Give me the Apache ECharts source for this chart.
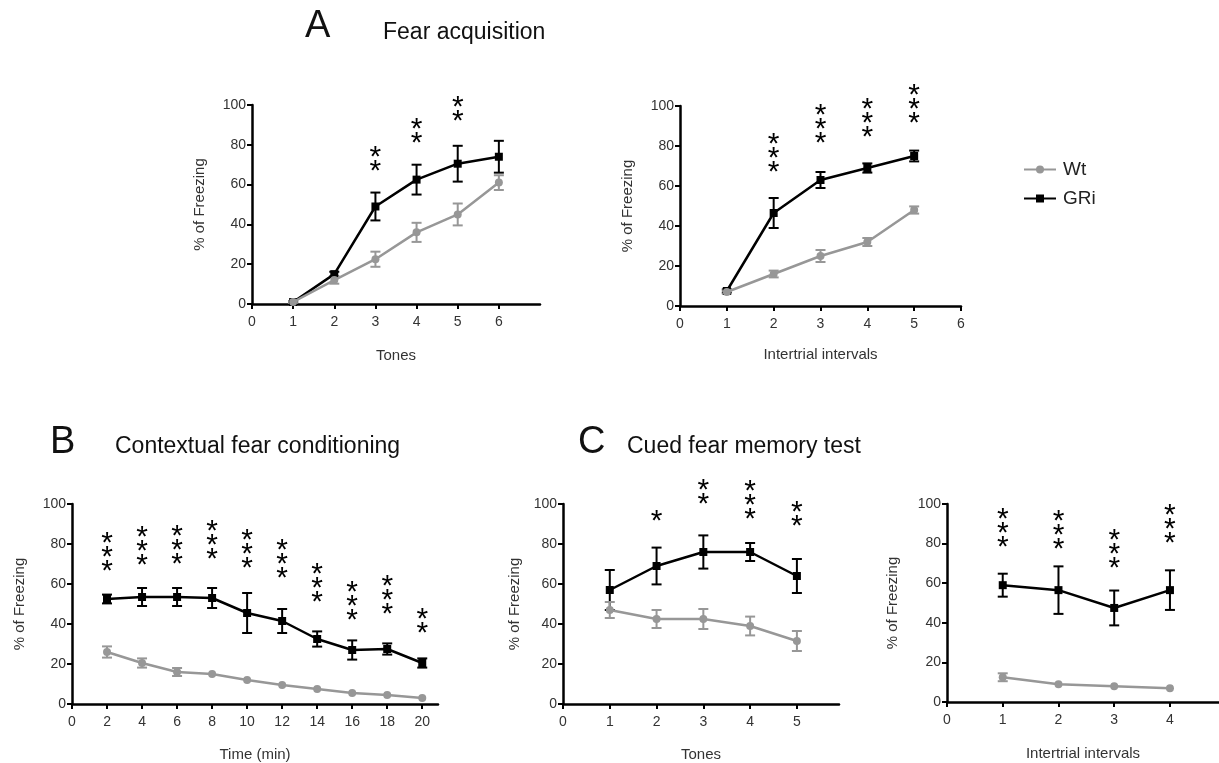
<!DOCTYPE html>
<html><head><meta charset="utf-8">
<script src="https://cdn.jsdelivr.net/npm/echarts@6/dist/echarts.min.js"></script>
<style>html,body{margin:0;padding:0;background:#fff}#c{width:1219px;height:763px}</style>
</head><body><div id="c"></div>
<script>
// ---------- DATA ----------
// Panel A1: Fear acquisition – Tones
const a1X = [1, 2, 3, 4, 5, 6];
const a1Wt = [1, 12, 22.5, 36, 45, 61];
const a1WtErr = [0.5, 1.8, 3.8, 4.8, 5.5, 3.7];
const a1GRi = [1, 15, 49, 62.5, 70.5, 74];
const a1GRiErr = [0.5, 1.2, 7, 7.5, 9, 8];
const a1Stars = [0, 0, 2, 2, 2, 0];
const a1StarBase = [null, null, 70, 84, 95, null];

// Panel A2: Fear acquisition – Intertrial intervals
const a2X = [1, 2, 3, 4, 5];
const a2Wt = [7, 16, 25, 32, 48];
const a2WtErr = [0.8, 1.7, 3, 2, 1.8];
const a2GRi = [7.5, 46.5, 63, 69, 75];
const a2GRiErr = [0.8, 7.5, 4, 2.3, 2.7];
const a2Stars = [0, 3, 3, 3, 3];
const a2StarBase = [null, 70, 84.5, 87.5, 94.5];

// Panel B: Contextual fear conditioning – Time (min)
const bX = [2, 4, 6, 8, 10, 12, 14, 16, 18, 20];
const bWt = [26, 20.5, 16, 15, 12, 9.5, 7.5, 5.5, 4.5, 3];
const bWtErr = [2.8, 2.3, 2, 0, 0, 0, 0, 0, 0, 0];
const bGRi = [52.5, 53.5, 53.5, 53, 45.5, 41.5, 32.5, 27, 27.5, 20.5];
const bGRiErr = [2.2, 4.5, 4.5, 5, 10, 6, 3.8, 4.8, 2.8, 2.3];
const bStars = [3, 3, 3, 3, 3, 3, 3, 3, 3, 2];
const bStarBase = [69.5, 72.5, 73, 75.5, 71, 66, 54, 45, 48, 38.5];

// Panel C1: Cued fear memory test – Tones
const c1X = [1, 2, 3, 4, 5];
const c1Wt = [47, 42.5, 42.5, 39, 31.5];
const c1WtErr = [4, 4.5, 5, 4.7, 5];
const c1GRi = [57, 69, 76, 76, 64];
const c1GRiErr = [10, 9.2, 8.3, 4.5, 8.5];
const c1Stars = [0, 1, 2, 3, 2];
const c1StarBase = [null, 94.5, 103, 95.5, 92];

// Panel C2: Cued fear memory test – Intertrial intervals
const c2X = [1, 2, 3, 4];
const c2Wt = [12.5, 9, 8, 7];
const c2WtErr = [2, 0, 0, 0];
const c2GRi = [59, 56.5, 47.5, 56.5];
const c2GRiErr = [5.8, 12, 8.8, 10];
const c2Stars = [3, 3, 3, 3];
const c2StarBase = [81.3, 80.3, 70.7, 83.3];

// Tick labels
const yTicks = [0, 20, 40, 60, 80, 100];
const a1Ticks = [0, 1, 2, 3, 4, 5, 6];
const a2Ticks = [0, 1, 2, 3, 4, 5, 6];
const bTicks = [0, 2, 4, 6, 8, 10, 12, 14, 16, 18, 20];
const c1Ticks = [0, 1, 2, 3, 4, 5];
const c2Ticks = [0, 1, 2, 3, 4];

const yName = '% of Freezing';
const seriesNames = ['Wt', 'GRi'];

// ---------- LAYOUT ----------
const FONT = '"Liberation Sans", Arial, Helvetica, sans-serif';
const GRAY = '#979797';
const BLACK = '#000000';

const panels = [
  {x: a1X, wt: a1Wt, wtE: a1WtErr, gr: a1GRi, grE: a1GRiErr, st: a1Stars, sb: a1StarBase, ticks: a1Ticks,
   grid: {left: 252, top: 105, width: 288, height: 199}, xmax: 7, xname: 'Tones', xGap: 44, yGap: 45},
  {x: a2X, wt: a2Wt, wtE: a2WtErr, gr: a2GRi, grE: a2GRiErr, st: a2Stars, sb: a2StarBase, ticks: a2Ticks,
   grid: {left: 680, top: 106, width: 281, height: 200}, xmax: 6, xname: 'Intertrial intervals', xGap: 41, yGap: 45},
  {x: bX, wt: bWt, wtE: bWtErr, gr: bGRi, grE: bGRiErr, st: bStars, sb: bStarBase, ticks: bTicks,
   grid: {left: 72, top: 504, width: 366, height: 200}, xmax: 20.9, xname: 'Time (min)', xGap: 43, yGap: 45},
  {x: c1X, wt: c1Wt, wtE: c1WtErr, gr: c1GRi, grE: c1GRiErr, st: c1Stars, sb: c1StarBase, ticks: c1Ticks,
   grid: {left: 563, top: 504, width: 276, height: 200}, xmax: 5.9, xname: 'Tones', xGap: 43, yGap: 41},
  {x: c2X, wt: c2Wt, wtE: c2WtErr, gr: c2GRi, grE: c2GRiErr, st: c2Stars, sb: c2StarBase, ticks: c2Ticks,
   grid: {left: 947, top: 504, width: 272, height: 198}, xmax: 4.88, xname: 'Intertrial intervals', xGap: 44, yGap: 47}
];

const grids = [], xAxes = [], yAxes = [], series = [];

function errRender(color) {
  return function (params, api) {
    const x = api.value(0), lo = api.value(1), hi = api.value(2);
    if (hi - lo <= 0) return null;
    const p1 = api.coord([x, hi]), p2 = api.coord([x, lo]);
    const w = 5;
    const st = {stroke: color, lineWidth: 2};
    return {type: 'group', children: [
      {type: 'line', shape: {x1: p1[0], y1: p1[1], x2: p2[0], y2: p2[1]}, style: st},
      {type: 'line', shape: {x1: p1[0] - w, y1: p1[1], x2: p1[0] + w, y2: p1[1]}, style: st},
      {type: 'line', shape: {x1: p2[0] - w, y1: p2[1], x2: p2[0] + w, y2: p2[1]}, style: st}
    ]};
  };
}

function starRender(params, api) {
  const x = api.value(0), base = api.value(1), n = api.value(2);
  const p = api.coord([x, base]);
  const children = [];
  for (let i = 0; i < n; i++) {
    children.push({type: 'text', x: p[0], y: p[1] - i * 14 + 7,
      style: {text: '*', fill: BLACK, font: '30px ' + FONT, align: 'center', verticalAlign: 'middle'}});
  }
  return {type: 'group', children: children};
}

panels.forEach((pn, i) => {
  grids.push(Object.assign({containLabel: false}, pn.grid));
  xAxes.push({
    type: 'value', gridIndex: i, min: 0, max: pn.xmax, interval: 1,
    name: pn.xname, nameLocation: 'middle', nameGap: pn.xGap,
    nameTextStyle: {fontFamily: FONT, fontSize: 15, color: '#333'},
    axisLine: {show: true, onZero: false, lineStyle: {color: BLACK, width: 2.5}},
    axisTick: {show: true, length: 5, lineStyle: {color: BLACK, width: 2}, customValues: pn.ticks},
    axisLabel: {fontFamily: FONT, fontSize: 14, color: '#333', margin: 11, customValues: pn.ticks},
    splitLine: {show: false}
  });
  yAxes.push({
    type: 'value', gridIndex: i, min: 0, max: 100, interval: 20,
    name: yName, nameLocation: 'middle', nameGap: pn.yGap,
    nameTextStyle: {fontFamily: FONT, fontSize: 15, color: '#333'},
    axisLine: {show: true, onZero: false, lineStyle: {color: BLACK, width: 2.5}},
    axisTick: {show: true, length: 5, lineStyle: {color: BLACK, width: 2}, customValues: yTicks},
    axisLabel: {fontFamily: FONT, fontSize: 14, color: '#333', margin: 6, customValues: yTicks},
    splitLine: {show: false}
  });
  const wtErrData = pn.x.map((x, k) => [x, pn.wt[k] - pn.wtE[k], pn.wt[k] + pn.wtE[k]]);
  const grErrData = pn.x.map((x, k) => [x, pn.gr[k] - pn.grE[k], pn.gr[k] + pn.grE[k]]);
  series.push({type: 'custom', name: 'GRi-err' + i, xAxisIndex: i, yAxisIndex: i, z: 1,
    renderItem: errRender(BLACK), data: grErrData, silent: true});
  series.push({type: 'custom', name: 'Wt-err' + i, xAxisIndex: i, yAxisIndex: i, z: 2,
    renderItem: errRender(GRAY), data: wtErrData, silent: true});
  series.push({type: 'line', name: seriesNames[1], xAxisIndex: i, yAxisIndex: i, z: 3,
    data: pn.x.map((x, k) => [x, pn.gr[k]]),
    symbol: 'rect', symbolSize: 8, color: BLACK,
    lineStyle: {color: BLACK, width: 2.5}, itemStyle: {color: BLACK}, animation: false});
  series.push({type: 'line', name: seriesNames[0], xAxisIndex: i, yAxisIndex: i, z: 4,
    data: pn.x.map((x, k) => [x, pn.wt[k]]),
    symbol: 'circle', symbolSize: 8, color: GRAY,
    lineStyle: {color: GRAY, width: 2.5}, itemStyle: {color: GRAY}, animation: false});
  const starData = [];
  pn.x.forEach((x, k) => { if (pn.st[k] > 0) starData.push([x, pn.sb[k], pn.st[k]]); });
  series.push({type: 'custom', name: 'stars' + i, xAxisIndex: i, yAxisIndex: i, z: 5,
    renderItem: starRender, data: starData, silent: true, clip: false});
});

const titleTexts = [
  {t: 'A', x: 305, y: 27, s: 38},
  {t: 'Fear acquisition', x: 383, y: 32.5, s: 23},
  {t: 'B', x: 50, y: 443, s: 38},
  {t: 'Contextual fear conditioning', x: 115, y: 447, s: 23},
  {t: 'C', x: 578, y: 443, s: 38},
  {t: 'Cued fear memory test', x: 627, y: 447, s: 23}
];

const option = {
  animation: false,
  backgroundColor: '#ffffff',
  grid: grids, xAxis: xAxes, yAxis: yAxes, series: series,
  legend: {
    data: [{name: 'Wt'}, {name: 'GRi'}],
    orient: 'vertical', left: 1018, top: 155,
    itemWidth: 32, itemHeight: 10, itemGap: 10,
    textStyle: {fontFamily: FONT, fontSize: 19, color: '#222', padding: [0, 0, 0, 2]},
    selectedMode: false
  },
  graphic: titleTexts.map(o => ({type: 'text', left: o.x, top: o.y - o.s * 0.5,
    style: {text: o.t, fill: '#111', font: o.s + 'px ' + FONT}}))
};

const chart = echarts.init(document.getElementById('c'), null, {renderer: 'canvas'});
chart.setOption(option);
</script>
</body></html>
